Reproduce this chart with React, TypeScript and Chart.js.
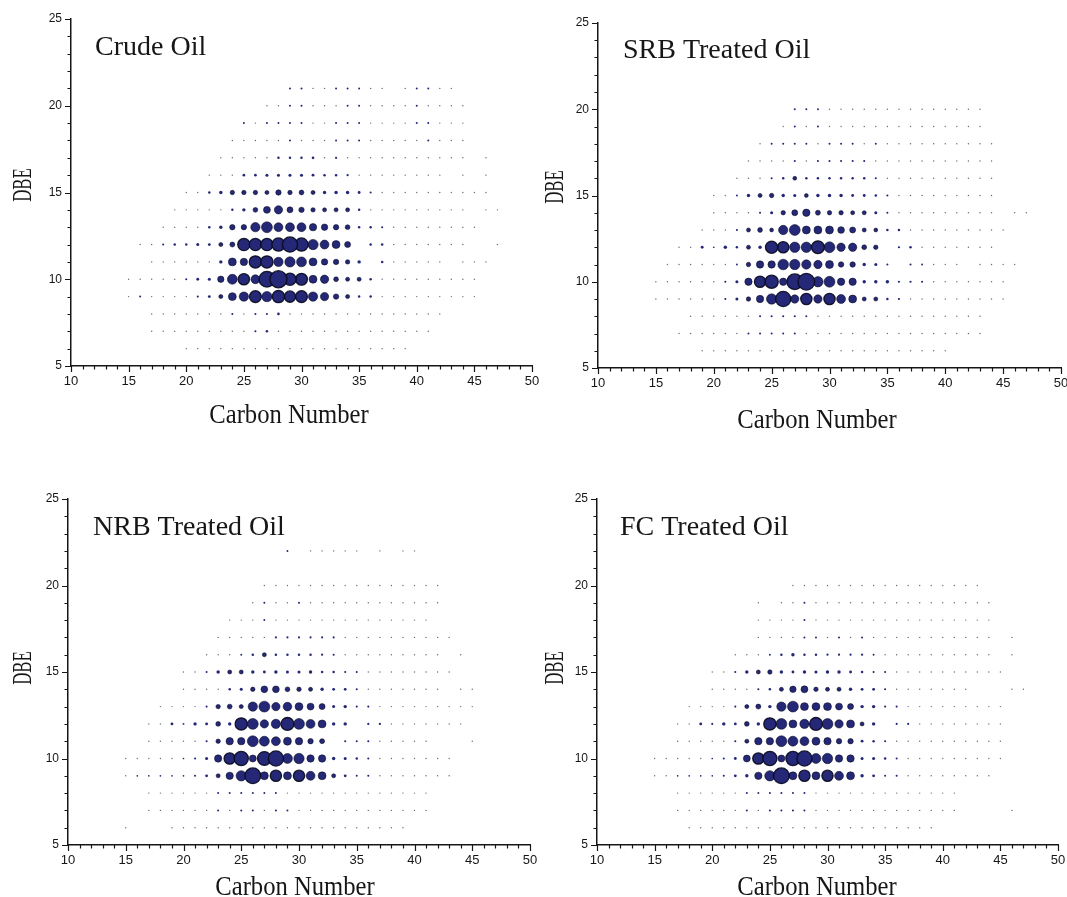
import React, { useEffect, useRef } from "react";
import { Chart, registerables } from "chart.js";

Chart.register(...registerables);

// trace-level abundances (tiny dots)
const T = 0.3;
const S = 0.8;

// DBE rows, top to bottom
const dbeLevels = [22, 21, 20, 19, 18, 17, 16, 15, 14, 13, 12, 11, 10, 9, 8, 7, 6];

// ---------- Crude Oil ----------
// first carbon number of each DBE row
const crudeStart = [0, 29, 27, 25, 24, 23, 22, 20, 19, 18, 16, 17, 15, 15, 17, 17, 20];
// relative abundance (%) per carbon number, starting at crudeStart
const crudeValues: number[][] = [
  [],
  [S, S, T, T, S, S, S, T, T, 0, T, S, S, T, T],
  [T, T, S, S, T, T, T, S, S, T, T, T, T, S, T, T, T, T],
  [S, T, S, S, S, S, T, T, S, S, S, T, T, T, T, S, S, T, T, T],
  [T, T, T, T, T, S, T, T, T, S, S, S, T, T, T, T, T, S, T, T, T],
  [T, T, T, T, T, 1.4, 1.4, 1.4, 1.7, T, 1.1, T, T, T, T, T, T, T, T, T, T, T, 0, T],
  [T, T, T, 1.7, 1.7, 2.3, 2.3, 2.3, 2.3, 2, 1.4, 1.4, 1.1, T, T, T, T, T, T, T, T, 0, T, 0, T],
  [T, T, 1.4, 3.1, 5.5, 5.5, 5.5, 4.5, 8.7, 5.5, 6.7, 4.5, 3.1, 3.1, 3.1, 2, 0.9, T, T, T, T, T, T, T, T, T, T],
  [T, T, T, T, T, 1.4, 3.1, 6.7, 15, 22, 10.9, 8.7, 5.5, 4.5, 4.5, 4.5, 1.4, T, T, T, T, T, T, T, T, T, 0, T, T],
  [T, T, T, T, 1.4, 3.1, 8.7, 8.7, 28, 39, 25.6, 25.6, 25.6, 17, 12.5, 8.7, 6.7, 1.4, 1.4, 0.9, T, T, T, T, T, T, T, T],
  [T, T, 0.9, 1.4, 1.4, 2.3, 2, 4.5, 7.3, 50, 50, 50, 58.5, 78, 58.5, 35, 25.6, 20, 10.9, 0, 1.4, 1.4, T, T, T, T, T, T, T, 0, 0, T],
  [T, T, T, T, T, T, 3.1, 20, 17, 50, 50, 28, 35, 32, 20, 12.5, 8.7, 5.5, 3.1, 0, 1.4, T, T, T, T, T, 0, T, T, T],
  [T, T, T, T, T, 0.9, 2, 2.3, 12.5, 32, 42, 25.6, 84, 100, 50, 46.6, 20, 22, 6.7, 4.5, 4.5, 1.4, T, T, T, T, T, T, T, T, T],
  [T, S, T, T, T, T, 0.9, 2, 4.5, 20, 28, 46.6, 35, 50, 42, 46.6, 28, 22, 8.7, 4.5, 1.4, 1.4, T, T, T, T, T, T, T, T, T],
  [T, T, T, T, T, T, T, 0.9, T, 0.9, 0.9, 1.7, T, T, T, T, T, T, T, T, T, T, T, T, T, T],
  [T, T, T, T, T, T, T, T, T, 0.9, 1.4, T, T, T, T, T, T, T, T, T, T, T, T, T, T],
  [T, T, T, T, T, T, T, T, T, T, T, T, T, T, T, T, T, T, T, T],
];

// ---------- SRB Treated Oil ----------
const srbStart = [0, 0, 27, 26, 24, 23, 22, 20, 20, 19, 17, 16, 15, 15, 18, 17, 19];
const srbValues: number[][] = [
  [],
  [],
  [S, S, S, T, T, T, T, T, T, T, T, T, T, T, T, T, T],
  [T, S, T, S, T, T, T, T, T, T, T, T, T, T, T, T, T, T],
  [T, S, S, S, S, T, S, S, S, T, S, T, T, T, T, T, T, T, T, T, T],
  [T, T, T, T, 0.9, T, 0.9, 0.9, 0.9, 0.9, 0.9, T, T, T, T, T, T, T, T, T, T, T],
  [T, T, T, 0.9, 1.4, 4, 1.4, 1.4, 1.4, 1.4, 1.4, 1.4, 0.9, T, T, T, T, T, T, T, T, T, T],
  [T, T, 0.7, 3.1, 4.5, 5.5, 3.1, 2.3, 4, 3.1, 3.1, 3.1, 2, 2, 1.4, 0.9, T, T, T, T, T, T, T, T, T],
  [T, T, T, T, 0.9, 2.3, 5.5, 10.9, 17, 7.3, 5.5, 5.5, 4.5, 4.5, 2.3, 0.9, T, T, T, T, T, T, T, T, T, 0, T, T],
  [T, T, T, 0.9, 4.5, 6.7, 4, 28, 39, 20, 20, 20, 14, 10.9, 4.5, 4, 1.4, 1.4, T, T, T, T, T, T, T, T, T],
  [T, T, 2, 0.5, 3.1, 1.4, 4.5, 3.1, 50, 42, 35, 35, 55, 39, 22, 22, 6.7, 5.5, 0, 1.1, 1.4, T, T, T, T, T, T, T],
  [T, T, T, T, T, T, 0.7, 5.5, 17, 17, 37, 35, 28, 22, 20, 8.7, 8.7, 3.1, 2.3, 0.9, 0, 0.9, 0.7, T, T, T, 0, T, T, T, T],
  [T, T, T, T, T, T, 0.9, 2.3, 17, 42, 58.5, 17, 84, 95, 35, 39, 17, 17, 3.1, 3.1, 3.1, 1.1, 1.1, 0.9, T, T, T, T, T, T, T],
  [T, T, T, T, T, T, 0.9, 2.3, 5.5, 17, 35, 78, 22, 42, 22, 42, 25.6, 20, 4.5, 4.5, 1.4, 1.1, T, T, T, T, T, T, T, T, T],
  [T, T, T, T, T, T, S, 0.9, 0.9, 0.9, S, T, T, T, T, T, T, T, T, T, T, T, T, T, T, T],
  [T, T, T, T, T, T, S, S, S, S, S, T, T, T, T, T, T, T, T, T, T, T, T, T, T, T, T],
  [T, T, T, T, T, T, T, T, T, T, T, T, T, T, T, T, T, T, T, T, T, T],
];

// ---------- NRB Treated Oil ----------
const nrbStart = [29, 0, 27, 26, 24, 23, 22, 20, 20, 18, 17, 17, 15, 15, 17, 17, 15];
const nrbValues: number[][] = [
  [S, 0, T, T, T, T, T, 0, T, 0, T, T],
  [],
  [T, T, T, T, T, T, T, T, T, T, T, T, T, T, T, T],
  [T, S, T, T, S, T, T, T, T, T, T, T, T, T, T, T, T],
  [T, T, T, S, T, T, T, T, T, T, T, T, T, T, T, T, T, T],
  [T, T, T, T, T, 0.9, 0.9, 0.9, 0.9, 0.9, 0.9, T, T, T, T, T, T, T, T, T, T],
  [T, T, T, 0.7, 1.4, 4.5, 1.4, 1.4, 1.4, 1.4, 1.1, 0.9, T, T, T, T, T, T, T, T, T, 0, T],
  [T, T, 0.9, 3.1, 4.5, 4.5, 3.1, 2, 3.1, 2.3, 2.3, 3.1, 1.4, 1.4, 0.9, 0.9, T, T, T, T, T, T, T, T],
  [T, T, T, T, 1.4, 2.3, 5.5, 14, 14, 6.7, 5.5, 4.5, 3.1, 2, 2, 0.9, T, T, T, T, T, T, T, 0, T, T],
  [T, T, T, T, 0.9, 5.5, 6.7, 4.5, 28, 39, 22, 24, 20, 15, 10.9, 2.3, 3.1, 0.9, 0.9, T, T, T, T, T, T, T, T, T],
  [T, T, 2, 0.7, 3.1, 2, 6.7, 3.1, 50, 39, 22, 28, 55, 39, 25.6, 20, 3.1, 3.1, 0, 1.1, 1.1, T, T, T, T, T, T, T],
  [T, T, T, T, T, 0.9, 5.5, 17, 17, 39, 32, 25.6, 20, 17, 8.7, 7.3, 0, 0.9, 0.9, 0.9, T, T, T, T, T, 0, 0, 0, T],
  [T, T, T, T, T, 0.5, 0.9, 2.3, 17, 42, 68, 15, 64, 78, 32, 35, 17, 17, 3.1, 2.3, 1.4, 0.9, T, T, T, T, T, T, T],
  [T, 0.5, 0.5, 0.5, 0.5, 0.5, 0.9, 2, 4.5, 17, 35, 84, 20, 42, 20, 42, 25.6, 20, 4.5, 2, 0.9, 0.9, T, T, T, T, T, T, T],
  [T, T, T, T, T, T, S, S, S, S, S, S, T, T, T, T, T, T, T, T, T, T, T, T, T],
  [T, T, T, T, T, T, S, T, S, S, T, S, S, T, T, T, T, T, T, T, T, T, T, T, T],
  [T, 0, 0, 0, T, T, T, T, T, T, T, T, T, T, T, T, T, T, T, T, T, T, T, T, T],
];

// ---------- FC Treated Oil ----------
const fcStart = [0, 0, 27, 24, 24, 24, 22, 20, 20, 18, 17, 17, 15, 15, 17, 17, 18];
const fcValues: number[][] = [
  [],
  [],
  [T, T, T, T, T, T, T, T, T, T, T, T, T, T, T, T, T],
  [T, 0, T, T, S, T, T, T, T, T, T, T, T, T, T, T, T, T, T, T, T],
  [T, T, T, T, S, T, T, T, T, T, T, T, T, T, T, T, T, T, T, T, T],
  [T, T, T, T, S, S, T, S, T, S, T, T, T, T, T, T, T, T, T, T, T, 0, T],
  [T, T, T, 0.7, 1.4, 3.1, 1.4, 1.4, 1.1, 1.1, 1.1, 1.1, 0.7, T, T, T, T, T, T, T, T, T, T, 0, T],
  [T, T, 0.9, 3.1, 4.5, 5.5, 3.1, 2, 3.1, 2.3, 3.1, 3.1, 2, 1.4, 0.9, 0.9, T, T, T, T, T, T, T, T, T, T],
  [T, T, T, T, 0.9, 1.4, 4.5, 12.5, 15, 5.5, 4.5, 4.5, 3.1, 2, 2, 0.9, T, T, T, T, T, T, T, 0, 0, 0, T, T],
  [T, T, T, T, 0.9, 4.5, 7.3, 3.1, 28, 39, 20, 20, 20, 15, 10.9, 3.1, 3.1, 0.9, 0.9, T, T, T, T, T, T, T, T, T],
  [T, T, 2, 0.9, 3.1, 2, 6.7, 3.1, 50, 39, 20, 28, 55, 39, 22, 20, 4.5, 3.1, 0, 0.9, 0.9, T, T, T, T, T, T, T, T],
  [T, T, T, T, T, 0.9, 4.5, 17, 17, 39, 32, 25.6, 20, 17, 8.7, 8.7, 2, 1.4, 0.9, T, T, T, T, T, T, T, T, T, T],
  [T, T, T, T, T, 0.5, 0.9, 2, 15, 42, 68, 15, 68, 78, 32, 35, 17, 17, 2.3, 2.3, 1.4, 0.9, T, T, T, T, T, T, T, T, T],
  [T, T, 0.5, 0.5, 0.5, 0.5, 0.9, 2, 3.1, 17, 35, 84, 20, 42, 20, 42, 25.6, 20, 3.1, 2, 0.9, 0.9, T, T, T, T, T, T, T, T],
  [T, T, T, T, T, T, S, S, S, S, S, S, T, T, T, T, T, T, T, T, T, T, T, T, T],
  [T, T, T, T, T, T, S, T, S, S, S, S, T, T, T, T, T, T, T, T, T, T, T, T, T, 0, 0, 0, 0, T],
  [T, T, T, T, T, T, T, T, T, T, T, T, T, T, T, T, T, T, T, T, T, T],
];

const panelTitles = ["Crude Oil", "SRB Treated Oil", "NRB Treated Oil", "FC Treated Oil"];
const xAxisTitle = "Carbon Number";
const yAxisTitle = "DBE";

const NAVY = "rgb(36, 40, 118)";
const TRACE = "rgb(105, 105, 118)";
const INK = "#161616";
const SERIF = '"Liberation Serif", "Times New Roman", serif';
const SANS = '"Liberation Sans", Arial, sans-serif';

type Layout = {
  box: { left: number; top: number; width: number; height: number };
  area: { left: number; right: number; top: number; bottom: number };
  titleAt: [number, number];
  xTitleAt: [number, number];
  yTitleAt: [number, number];
};

const layouts: Layout[] = [
  {
    box: { left: 0, top: 0, width: 570, height: 450 },
    area: { left: 71, right: 532, top: 19, bottom: 366 },
    titleAt: [95, 55],
    xTitleAt: [289, 423],
    yTitleAt: [31, 185],
  },
  {
    box: { left: 540, top: 0, width: 570, height: 450 },
    area: { left: 58, right: 521, top: 23, bottom: 368 },
    titleAt: [83, 58],
    xTitleAt: [277, 428],
    yTitleAt: [23, 187],
  },
  {
    box: { left: 0, top: 450, width: 570, height: 447 },
    area: { left: 68, right: 530, top: 49, bottom: 395 },
    titleAt: [93, 85],
    xTitleAt: [295, 445],
    yTitleAt: [31, 218],
  },
  {
    box: { left: 540, top: 450, width: 570, height: 447 },
    area: { left: 57, right: 518, top: 49, bottom: 395 },
    titleAt: [80, 85],
    xTitleAt: [277, 445],
    yTitleAt: [23, 218],
  },
];

const panelData = [
  { start: crudeStart, values: crudeValues },
  { start: srbStart, values: srbValues },
  { start: nrbStart, values: nrbValues },
  { start: fcStart, values: fcValues },
];

function radiusOf(v: number) {
  return 0.25 + 0.83 * Math.sqrt(v);
}

function buildPoints(start: number[], values: number[][]) {
  const pts: { x: number; y: number; v: number }[] = [];
  values.forEach((row, i) => {
    row.forEach((v, j) => {
      if (v > 0) pts.push({ x: start[i] + j, y: dbeLevels[i], v });
    });
  });
  pts.sort((a, b) => a.v - b.v);
  return pts.map((p) => ({ x: p.x, y: p.y, r: radiusOf(p.v), v: p.v }));
}

function makeDecor(title: string, L: Layout) {
  return {
    id: "decor",
    afterDraw(chart: any) {
      const { ctx, chartArea } = chart;
      const xs = chart.scales.x;
      const ys = chart.scales.y;
      ctx.save();
      ctx.strokeStyle = INK;
      ctx.lineWidth = 1.2;
      ctx.beginPath();
      for (let c = 10; c <= 50; c++) {
        const px = Math.round(xs.getPixelForValue(c)) + 0.5;
        const len = c % 5 === 0 ? 6 : 3.5;
        ctx.moveTo(px, chartArea.bottom);
        ctx.lineTo(px, chartArea.bottom + len);
      }
      for (let d = 5; d <= 25; d++) {
        const py = Math.round(ys.getPixelForValue(d)) + 0.5;
        const len = d % 5 === 0 ? 6 : 3.5;
        ctx.moveTo(chartArea.left, py);
        ctx.lineTo(chartArea.left - len, py);
      }
      ctx.stroke();

      ctx.fillStyle = INK;
      ctx.textBaseline = "alphabetic";
      ctx.font = `28px ${SERIF}`;
      ctx.textAlign = "left";
      ctx.fillText(title, L.titleAt[0], L.titleAt[1]);

      ctx.save();
      ctx.translate(L.xTitleAt[0], L.xTitleAt[1]);
      ctx.scale(0.88, 1);
      ctx.textAlign = "center";
      ctx.font = `28px ${SERIF}`;
      ctx.fillText(xAxisTitle, 0, 0);
      ctx.restore();

      ctx.save();
      ctx.translate(L.yTitleAt[0], L.yTitleAt[1]);
      ctx.rotate(-Math.PI / 2);
      ctx.scale(0.62, 1);
      ctx.textAlign = "center";
      ctx.font = `27px ${SERIF}`;
      ctx.fillText(yAxisTitle, 0, 0);
      ctx.restore();
      ctx.restore();
    },
  };
}

function Panel({ index }: { index: number }) {
  const ref = useRef<HTMLCanvasElement | null>(null);
  const L = layouts[index];
  useEffect(() => {
    if (!ref.current) return;
    const { start, values } = panelData[index];
    const chart = new Chart(ref.current, {
      type: "bubble",
      data: {
        datasets: [
          {
            data: buildPoints(start, values),
            backgroundColor: (c: any) => (c.raw && c.raw.v <= T ? TRACE : NAVY),
            borderColor: "rgba(8, 8, 28, 0.9)",
            borderWidth: (c: any) => {
              const r = c.raw ? c.raw.r : 0;
              return r > 5.5 ? 1.3 : r > 1.8 ? 0.6 : 0;
            },
          } as any,
        ],
      },
      options: {
        responsive: false,
        animation: false,
        events: [],
        layout: {
          padding: {
            left: 0,
            top: L.area.top,
            right: L.box.width - L.area.right,
            bottom: 0,
          },
        },
        plugins: { legend: { display: false }, tooltip: { enabled: false } },
        scales: {
          x: {
            type: "linear",
            position: "bottom",
            min: 10,
            max: 50,
            grid: { display: false, drawTicks: false },
            border: { display: true, color: INK, width: 1.5 },
            ticks: { stepSize: 5, padding: 8, color: INK, font: { family: SANS, size: 13 }, maxRotation: 0, autoSkip: false },
            afterFit: (s: any) => {
              s.height = L.box.height - L.area.bottom;
            },
          },
          y: {
            type: "linear",
            position: "left",
            min: 5,
            max: 25,
            grid: { display: false, drawTicks: false },
            border: { display: true, color: INK, width: 1.5 },
            ticks: { stepSize: 5, padding: 9, color: INK, font: { family: SANS, size: 12 } },
            afterFit: (s: any) => {
              s.width = L.area.left;
            },
          },
        },
      } as any,
      plugins: [makeDecor(panelTitles[index], L)],
    });
    return () => chart.destroy();
  }, [index]);
  return (
    <canvas
      ref={ref}
      width={L.box.width}
      height={L.box.height}
      style={{ position: "absolute", left: L.box.left, top: L.box.top, width: L.box.width, height: L.box.height }}
    />
  );
}

export default function App() {
  return (
    <div
      style={{
        position: "absolute",
        left: 0,
        top: 0,
        width: 1067,
        height: 897,
        overflow: "hidden",
        background: "#fff",
      }}
    >
      {[0, 1, 2, 3].map((i) => (
        <Panel key={i} index={i} />
      ))}
    </div>
  );
}
